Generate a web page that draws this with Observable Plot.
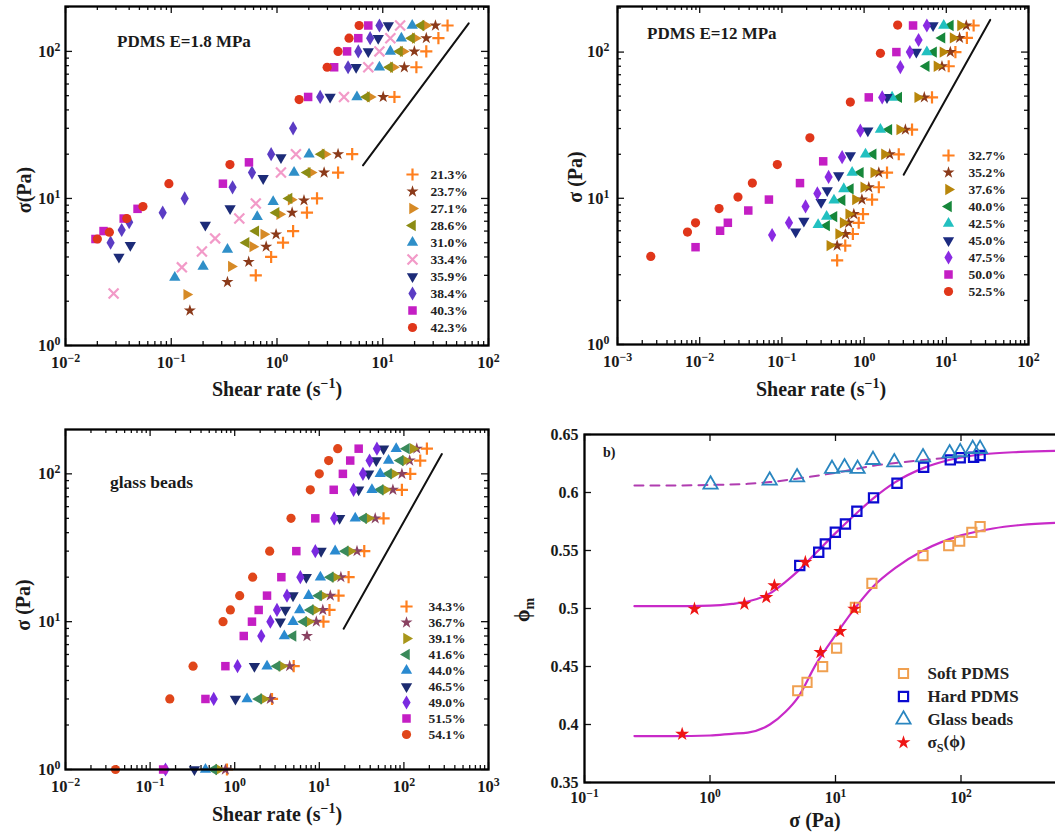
<!DOCTYPE html>
<html><head><meta charset="utf-8">
<script src="https://cdn.jsdelivr.net/npm/d3@7"></script>
<script src="https://cdn.jsdelivr.net/npm/@observablehq/plot@0.6"></script>
<style>
html,body{margin:0;padding:0;overflow:hidden;background:#fff;}
#root{position:relative;width:1055px;height:835px;overflow:hidden;font-family:'Liberation Serif','Times New Roman',serif;font-weight:bold;color:#1a1a1a;}
.lbl{position:absolute;white-space:nowrap;line-height:1;}
</style></head><body><div id="root"></div>
<script>
// ---------------- Panel 1 : PDMS E=1.8 MPa ----------------
const p1Labels = ["21.3%","23.7%","27.1%","28.6%","31.0%","33.4%","35.9%","38.4%","40.3%","42.3%"];
const p1Rate = [
 [41, 33.6, 25.8, 20.8, 12.9, 5.14, 3.78, 2.39, 1.92, 1.42, 1.14, 0.88, 0.63],
 [31.5, 25.8, 19.9, 16, 10.1, 3.78, 2.79, 1.8, 1.39, 0.98, 0.79, 0.54, 0.34, 0.15],
 [25.5, 20.3, 15.6, 12.6, 7.6, 2.85, 2.1, 1.36, 1.06, 0.75, 0.59, 0.37, 0.14],
 [23, 18.7, 14.4, 11.6, 7.0, 2.62, 1.93, 1.3, 0.98, 0.63, 0.51],
 [19, 15, 11.8, 9.3, 5.7, 2.01, 1.45, 0.92, 0.65, 0.34, 0.2, 0.108],
 [14.6, 11.8, 9.3, 7.3, 4.3, 1.51, 1.09, 0.63, 0.44, 0.26, 0.195, 0.126, 0.0285],
 [11.3, 9.06, 7.3, 5.6, 3.18, 1.09, 0.74, 0.36, 0.21, 0.041, 0.032],
 [9.3, 7.6, 5.87, 4.7, 2.56, 1.42, 0.88, 0.58, 0.38, 0.134, 0.083, 0.040, 0.034, 0.0267],
 [7.3, 5.87, 4.6, 3.47, 1.97, 0.543, 0.308, 0.048, 0.0355, 0.0229, 0.0192],
 [5.98, 4.8, 3.78, 2.98, 1.62, 0.359, 0.095, 0.054, 0.038, 0.026, 0.020]
];
const p1Stress = [
 [150, 123, 100, 78, 49, 20, 15, 10, 8.0, 6.0, 5.0, 4.0, 3.0],
 [150, 123, 100, 78, 49, 20, 15, 9.7, 8.0, 5.7, 4.7, 3.7, 2.7, 1.73],
 [150, 123, 100, 78, 49, 20, 15, 9.8, 7.8, 5.7, 4.7, 3.45, 2.22],
 [150, 123, 100, 78, 49, 20, 15, 10, 8.0, 6.0, 5.0],
 [150, 123, 100, 78, 49, 20, 15, 9.5, 7.5, 4.5, 3.45, 2.9],
 [150, 123, 100, 78, 49, 20, 15, 9.25, 7.3, 5.35, 4.36, 3.4, 2.26],
 [150, 123, 100, 78, 49, 19, 13.7, 8.55, 6.6, 4.8, 4.0],
 [150, 123, 100, 78, 49, 30, 20, 15, 11.9, 10, 8.0, 6.9, 6.1, 5.0],
 [150, 123, 100, 78, 49, 17.6, 12.6, 8.5, 7.3, 6.0, 5.3],
 [150, 123, 100, 78, 47, 17, 12.6, 8.8, 7.3, 5.9, 5.3]
];
const p1LineRate = [6.5, 65];
const p1LineStress = [16.8, 155];
const p1XTicks = [0.01, 0.1, 1, 10, 100];
const p1YTicks = [1, 10, 100];

// ---------------- Panel 2 : PDMS E=12 MPa ----------------
const p2Labels = ["32.7%","35.2%","37.6%","40.0%","42.5%","45.0%","47.5%","50.0%","52.5%"];
const p2Rate = [
 [21.5, 17.8, 12.9, 10.7, 6.7, 3.83, 2.64, 1.9, 1.51, 1.25, 0.97, 0.86, 0.73, 0.59, 0.47],
 [17.5, 14.5, 11.2, 8.86, 5.4, 3.18, 2.05, 1.51, 1.14, 0.94, 0.75, 0.65, 0.593, 0.47],
 [14.9, 12.1, 9.1, 7.7, 4.49, 2.71, 1.77, 1.31, 0.99, 0.785, 0.65, 0.556, 0.49, 0.383],
 [11.2, 8.86, 7.0, 5.7, 2.64, 2.0, 1.29, 0.9, 0.68, 0.54, 0.43, 0.35],
 [9.3, 5.8, 2.19, 1.58, 1.04, 0.715, 0.566, 0.43, 0.35, 0.276],
 [6.9, 4.32, 1.9, 1.11, 0.68, 0.49, 0.356, 0.3, 0.185, 0.147],
 [5.8, 4.6, 3.6, 2.76, 1.66, 0.9, 0.54, 0.37, 0.27, 0.194, 0.122, 0.076],
 [3.94, 2.47, 1.14, 0.318, 0.166, 0.0695, 0.039, 0.022, 0.0177, 0.0089],
 [2.56, 1.58, 0.68, 0.219, 0.088, 0.0437, 0.0292, 0.0172, 0.0089, 0.0071, 0.00254]
];
const p2Stress = [
 [152, 125, 100, 80, 49, 29.5, 20, 15, 11.9, 9.8, 7.8, 6.8, 5.7, 4.75, 3.76],
 [152, 125, 100, 80, 49, 29.5, 20, 15, 11.9, 9.8, 7.8, 6.8, 5.7, 4.75],
 [152, 125, 100, 80, 49, 29.5, 20, 15, 11.9, 9.8, 7.8, 6.8, 5.7, 4.75],
 [152, 125, 100, 80, 49, 29.5, 20, 15, 11.6, 9.7, 7.5, 6.5],
 [152, 100, 49, 29.5, 20, 15, 11.6, 9.7, 7.5, 6.6],
 [152, 100, 49, 29, 19.6, 14.3, 11.3, 9.4, 7.0, 5.9],
 [152, 121, 100, 79, 49, 29, 19.1, 14, 10.8, 8.8, 6.8, 5.6],
 [152, 100, 49, 17.9, 12.7, 9.8, 8.25, 6.8, 6.0, 4.63],
 [153, 98, 45.5, 25.9, 17, 12.7, 10.2, 8.5, 6.8, 5.87, 4.0]
];
const p2LineRate = [3.03, 34.2];
const p2LineStress = [14.5, 166];
const p2XTicks = [0.001, 0.01, 0.1, 1, 10, 100];
const p2YTicks = [1, 10, 100];

// ---------------- Panel 3 : glass beads ----------------
const p3Labels = ["34.3%","36.7%","39.1%","41.6%","44.0%","46.5%","49.0%","51.5%","54.1%"];
const p3Rate = [
 [187, 156, 119, 94.7, 57.5, 34, 22.2, 16.9, 13.2, 11.2, 4.98, 2.76, 0.81],
 [142, 117, 94.7, 74.1, 45.8, 27.9, 18, 13.5, 11, 9.22, 7.15, 4.46, 2.64, 0.776],
 [128, 104, 75.5, 60.2, 38.3, 23.2, 15.4, 11.0, 8.97, 7.48, 3.62, 2.2, 0.648],
 [107, 90.5, 65.9, 52.5, 33.4, 20.3, 13.5, 9.82, 7.83, 6.54, 4.89, 3.16, 1.92, 0.565],
 [81.1, 65.9, 52.5, 41.9, 26.6, 15.4, 10.3, 7.48, 5.86, 4.89, 3.86, 2.41, 1.4, 0.451],
 [57.5, 47.1, 38.3, 29.2, 17.4, 10.5, 7.02, 4.89, 3.97, 3.46, 1.71, 1.02, 0.334],
 [48, 39.3, 32.8, 25.4, 15.0, 8.97, 5.97, 4.15, 3.16, 2.64, 2.06, 1.08, 0.565, 0.152],
 [29.2, 23.2, 19, 14.8, 8.97, 5.35, 3.56, 2.41, 1.92, 1.6, 1.28, 0.776, 0.451, 0.1426],
 [16.5, 12.9, 10, 7.83, 4.63, 2.59, 1.63, 1.145, 0.889, 0.728, 0.322, 0.171, 0.039]
];
const p3Stress = [
 [148, 123, 100, 78, 50, 30, 20, 15, 12, 10, 5, 3, 1],
 [148, 123, 100, 78, 50, 30, 20, 15, 12, 10, 8, 5, 3, 1],
 [148, 123, 100, 78, 50, 30, 20, 15, 12, 10, 5, 3, 1],
 [148, 123, 100, 78, 50, 30, 20, 15, 12, 10, 8, 5, 3, 1],
 [148, 123, 100, 78, 50, 30, 20, 15, 12, 10, 8, 5, 3, 1],
 [148, 123, 100, 78, 50, 30, 20, 15, 12, 10, 5, 3, 1],
 [148, 123, 100, 78, 50, 30, 20, 15, 12, 10, 8, 5, 3, 1],
 [148, 123, 100, 78, 50, 30, 20, 15, 12, 10, 8, 5, 3, 1],
 [148, 123, 100, 78, 50, 30, 20, 15, 12, 10, 5, 3, 1]
];
const p3LineRate = [19.4, 281];
const p3LineStress = [8.97, 136];
const p3XTicks = [0.01, 0.1, 1, 10, 100, 1000];
const p3YTicks = [1, 10, 100];

// ---------------- Panel 4 : phi_m vs sigma ----------------
const p4Labels = ["Soft PDMS", "Hard PDMS", "Glass beads", "σ_S(ϕ)"];
const p4SoftX = [5.0, 5.93, 7.9, 10.2, 14.4, 19.5, 49.8, 79.8, 97.6, 122, 142];
const p4SoftY = [0.4291, 0.4363, 0.4498, 0.4659, 0.501, 0.5217, 0.5456, 0.5542, 0.558, 0.5657, 0.5706];
const p4HardX = [5.19, 7.35, 8.3, 9.97, 12, 14.8, 20.1, 30.9, 50.4, 82.2, 98.6, 126, 142];
const p4HardY = [0.537, 0.5485, 0.5557, 0.5657, 0.5729, 0.5839, 0.5954, 0.608, 0.6218, 0.6281, 0.6299, 0.6304, 0.6319];
const p4GlassX = [1.01, 2.99, 4.94, 9.38, 11.8, 15.0, 19.9, 29.4, 49.8, 81.2, 98.6, 124, 142];
const p4GlassY = [0.6069, 0.6103, 0.6132, 0.6204, 0.6218, 0.6204, 0.6281, 0.6261, 0.6304, 0.6339, 0.6348, 0.6376, 0.6376];
const p4StarX = [0.6, 0.752, 1.88, 2.81, 3.26, 5.75, 7.59, 10.9, 14.1];
const p4StarY = [0.3917, 0.4996, 0.5039, 0.5096, 0.5197, 0.5399, 0.4622, 0.4803, 0.4996];
const p4HardFitX = [0.25, 0.5, 1, 1.5, 2, 3, 4, 5, 7, 10, 15, 20, 30, 50, 80, 150, 300, 600];
const p4HardFitY = [0.502, 0.502, 0.5025, 0.504, 0.506, 0.513, 0.523, 0.532, 0.548, 0.565, 0.583, 0.595, 0.609, 0.621, 0.628, 0.633, 0.635, 0.636];
const p4SoftFitX = [0.25, 0.5, 1, 1.5, 2, 3, 4, 5, 7, 10, 14, 20, 30, 50, 100, 180, 300, 600];
const p4SoftFitY = [0.39, 0.39, 0.3905, 0.392, 0.393, 0.4, 0.411, 0.423, 0.452, 0.477, 0.499, 0.519, 0.535, 0.55, 0.563, 0.569, 0.572, 0.574];
const p4GlassFitX = [0.25, 0.5, 1, 2, 3, 5, 10, 20, 50, 100];
const p4GlassFitY = [0.606, 0.606, 0.6065, 0.6075, 0.609, 0.612, 0.617, 0.623, 0.628, 0.631];
const p4XTicks = [0.1, 1, 10, 100];
const p4YTicks = [0.35, 0.4, 0.45, 0.5, 0.55, 0.6, 0.65];

// ---------------- styles ----------------
const SYM9 = ["plus","star","triangle","triangle","triangle","triangle","diamond","square","circle"];
const ROT9 = [0, 0, 90, -90, 0, 180, 0, 0, 0];
const p1Symbols = ["plus","star","triangle","triangle","triangle","times","triangle","diamond","square","circle"];
const p1Rotate = [0, 0, 90, -90, 0, 0, 180, 0, 0, 0];
const p1Colors = ["#ff7f1e","#8b3a1a","#d68a26","#8c8c14","#2f8fc8","#f29ac8","#1c2b78","#5b3cc4","#c41ec4","#e0361a"];
const p2Colors = ["#ff7f1e","#8b3a1a","#b8860b","#16873a","#22c0c0","#1c2b80","#8a2be2","#c41ec4","#e0361a"];
const p3Colors = ["#ff7f1e","#8a4262","#a8961a","#3a8a5a","#2a8ad0","#1c2b70","#7a2ae0","#c41ec4","#e0461a"];

const FONT = "'Liberation Serif','Times New Roman',serif";
const root = document.getElementById("root");
const sizeOf = {plus: 4, star: 3.8, triangle: 4.2, times: 4.6, diamond: 4.3, square: 4.8, circle: 4.6};
const strokeSyms = new Set(["plus", "times"]);

function dotMark(data, chan, st) {
  const open = st.open || strokeSyms.has(st.symbol);
  return Plot.dot(data, {...chan, symbol: st.symbol, r: st.r ?? sizeOf[st.symbol], rotate: st.rotate || 0,
    fill: open ? "none" : st.color, stroke: open ? st.color : "none", strokeWidth: open ? (st.sw ?? 2.2) : 0});
}

function richText(svg) {
  d3.select(svg).selectAll("text").each(function() {
    const t = this.textContent;
    const s = d3.select(this);
    if (t.includes("^")) {
      const [b, e] = t.split("^");
      s.text(null);
      s.append("tspan").text(b);
      s.append("tspan").attr("dy", "-0.5em").attr("font-size", "72%").text(e.replace("-", "\u2212"));
    } else if (t.includes("_")) {
      const i = t.indexOf("_");
      s.text(null);
      s.append("tspan").text(t.slice(0, i));
      s.append("tspan").attr("dy", "0.35em").attr("font-size", "72%").text(t[i + 1]);
      s.append("tspan").attr("dy", "-0.3em").text(t.slice(i + 2));
    }
  });
}

function place(el, left, top) {
  el.style.position = "absolute";
  el.style.left = left + "px";
  el.style.top = top + "px";
  root.appendChild(el);
}

function label(html, x, y, {size = 20, rotate = false, anchor = "middle"} = {}) {
  const d = document.createElement("div");
  d.className = "lbl";
  d.innerHTML = html;
  d.style.fontSize = size + "px";
  d.style.left = x + "px";
  d.style.top = y + "px";
  d.style.transform = anchor === "start" ? "translate(0,-50%)" : "translate(-50%,-50%)" + (rotate ? " rotate(-90deg)" : "");
  root.appendChild(d);
}

function minors(majors, domain) {
  const out = [];
  for (const m of majors) for (let k = 2; k <= 9; k++) { const v = m * k; if (v > domain[0] && v < domain[1]) out.push(v); }
  return out;
}

const logFmt = d => "10^" + Math.round(Math.log10(d));

function panel(cfg) {
  const {left, top, width, height, mt, mr, mb, ml, xType = "log", yType = "log", xDomain, yDomain,
         xMaj, yMaj, xTickMaj = xMaj, xMin = [], yMin = [], xFmt = logFmt, yFmt = logFmt, xPad, yPad, marks, fs = 16.5} = cfg;
  const iw = width - ml - mr, ih = height - mt - mb;
  const T = 7, t = 4, tk = {stroke: "#111", strokeWidth: 1.3};
  const ticks = [
    Plot.ruleX(xTickMaj, {x: d => d, insetTop: ih - T, ...tk}),
    Plot.ruleX(xTickMaj, {x: d => d, insetBottom: ih - T, ...tk}),
    Plot.ruleX(xMin, {x: d => d, insetTop: ih - t, ...tk}),
    Plot.ruleX(xMin, {x: d => d, insetBottom: ih - t, ...tk}),
    Plot.ruleY(yMaj, {y: d => d, insetRight: iw - T, ...tk}),
    Plot.ruleY(yMaj, {y: d => d, insetLeft: iw - T, ...tk}),
    Plot.ruleY(yMin, {y: d => d, insetRight: iw - t, ...tk}),
    Plot.ruleY(yMin, {y: d => d, insetLeft: iw - t, ...tk})
  ];
  const all = [
    ...ticks,
    Plot.axisX({anchor: "bottom", ticks: xMaj, tickSize: 0, tickPadding: xPad, tickFormat: xFmt, label: null, fontSize: fs}),
    Plot.axisY({anchor: "left", ticks: yMaj, tickSize: 0, tickPadding: yPad, tickFormat: yFmt, label: null, fontSize: fs}),
    ...marks,
    Plot.frame({stroke: "#000", strokeWidth: 2.3})
  ];
  const svg = Plot.plot({
    width, height, marginTop: mt, marginRight: mr, marginBottom: mb, marginLeft: ml,
    x: {type: xType, domain: xDomain}, y: {type: yType, domain: yDomain},
    marks: all,
    style: {fontFamily: FONT, fontWeight: "bold", fontSize: fs + "px", background: "transparent", color: "#1a1a1a", overflow: "visible"}
  });
  richText(svg);
  place(svg, left, top);
}

function legend(labels, styles, {x, y0, rowH, dx, fontSize}) {
  const pad = 12;
  const h = rowH * (labels.length - 1) + 2 * pad;
  const marks = labels.map((lab, i) => dotMark([lab], {x: () => 0, y: d => d}, styles[i]));
  marks.push(Plot.text(labels, {x: () => 0, y: d => d, text: d => d, dx, textAnchor: "start", fontSize, fill: "#222"}));
  const svg = Plot.plot({
    width: 140, height: h, marginTop: pad, marginBottom: pad, marginLeft: pad, marginRight: 0,
    x: {domain: [0, 1], axis: null}, y: {type: "point", domain: labels, padding: 0, axis: null},
    marks, style: {fontFamily: FONT, fontWeight: "bold", background: "transparent", overflow: "visible"}
  });
  richText(svg);
  place(svg, x - pad, y0 - pad);
}

function scatterMarks(labels, rates, stresses, symbols, rotates, colors, lineR, lineS) {
  const marks = [Plot.line(lineR.map((r, i) => ({r, s: lineS[i]})), {x: "r", y: "s", stroke: "#111", strokeWidth: 2})];
  labels.forEach((lab, i) => {
    const data = rates[i].map((r, j) => ({r, s: stresses[i][j]}));
    marks.push(dotMark(data, {x: "r", y: "s"}, {symbol: symbols[i], rotate: rotates[i], color: colors[i]}));
  });
  return marks;
}
const styleList = (symbols, rotates, colors) => symbols.map((s, i) => ({symbol: s, rotate: rotates[i], color: colors[i]}));
const SHEAR = "Shear rate (s<sup style='font-size:70%'>−1</sup>)";

// ---- Panel 1
{
  const xD = [0.01, 100], yD = [1, 202];
  panel({left: 0, top: 0, width: 505, height: 410, mt: 6, mr: 17, mb: 65, ml: 65, xDomain: xD, yDomain: yD,
    xMaj: p1XTicks, yMaj: p1YTicks, xMin: minors(p1XTicks, xD), yMin: minors(p1YTicks, yD), xPad: 11, yPad: 5,
    marks: scatterMarks(p1Labels, p1Rate, p1Stress, p1Symbols, p1Rotate, p1Colors, p1LineRate, p1LineStress)});
  legend(p1Labels, styleList(p1Symbols, p1Rotate, p1Colors), {x: 412, y0: 174, rowH: 17, dx: 18, fontSize: 13.5});
  label("PDMS E=1.8 MPa", 117, 41, {size: 17, anchor: "start"});
  label("σ(Pa)", 24, 190, {rotate: true});
  label(SHEAR, 277, 388);
}
// ---- Panel 2
{
  const xD = [0.001, 100], yD = [1, 205];
  panel({left: 520, top: 0, width: 535, height: 410, mt: 6, mr: 27, mb: 66, ml: 97, xDomain: xD, yDomain: yD,
    xMaj: p2XTicks, yMaj: p2YTicks, xMin: minors(p2XTicks, xD), yMin: minors(p2YTicks, yD), xPad: 11, yPad: 8,
    marks: scatterMarks(p2Labels, p2Rate, p2Stress, SYM9, ROT9, p2Colors, p2LineRate, p2LineStress)});
  legend(p2Labels, styleList(SYM9, ROT9, p2Colors), {x: 948, y0: 155, rowH: 17, dx: 20, fontSize: 13.5});
  label("PDMS E=12 MPa", 647, 33, {size: 17, anchor: "start"});
  label("σ (Pa)", 575, 177, {rotate: true});
  label(SHEAR, 821, 388);
}
// ---- Panel 3
{
  const xD = [0.01, 1000], yD = [1, 199.5];
  panel({left: 0, top: 410, width: 505, height: 425, mt: 19, mr: 17, mb: 66, ml: 65, xDomain: xD, yDomain: yD,
    xMaj: p3XTicks, yMaj: p3YTicks, xMin: minors(p3XTicks, xD), yMin: minors(p3YTicks, yD), xPad: 11, yPad: 5,
    marks: scatterMarks(p3Labels, p3Rate, p3Stress, SYM9, ROT9, p3Colors, p3LineRate, p3LineStress)});
  legend(p3Labels, styleList(SYM9, ROT9, p3Colors), {x: 406, y0: 602, rowH: 16.9, dx: 22, fontSize: 13.5});
  label("glass beads", 110, 483, {size: 17.5, anchor: "start"});
  label("σ (Pa)", 23, 605, {rotate: true});
  label(SHEAR, 277, 813);
}
// ---- Panel 4
{
  const pts = (xs, ys) => xs.map((x, i) => ({x, y: ys[i]}));
  const softSt = {symbol: "square", color: "#f0a050", open: true, r: 5.2, sw: 2};
  const hardSt = {symbol: "square", color: "#0a0ad0", open: true, r: 5.2, sw: 2.2};
  const glassSt = {symbol: "triangle", color: "#2a86c0", open: true, r: 5.3, sw: 1.8};
  const starSt = {symbol: "star", color: "#ee1515", r: 4.4};
  const fitC = "#c82ac8";
  const marks = [
    Plot.line(pts(p4GlassFitX, p4GlassFitY), {x: "x", y: "y", stroke: "#b03cb0", strokeWidth: 2, strokeDasharray: "9,7", curve: "monotone-x"}),
    Plot.line(pts(p4HardFitX, p4HardFitY), {x: "x", y: "y", stroke: fitC, strokeWidth: 2.2, curve: "monotone-x"}),
    Plot.line(pts(p4SoftFitX, p4SoftFitY), {x: "x", y: "y", stroke: fitC, strokeWidth: 2.2, curve: "monotone-x"}),
    dotMark(pts(p4SoftX, p4SoftY), {x: "x", y: "y"}, softSt),
    dotMark(pts(p4HardX, p4HardY), {x: "x", y: "y"}, hardSt),
    dotMark(pts(p4GlassX, p4GlassY), {x: "x", y: "y"}, glassSt),
    dotMark(pts(p4StarX, p4StarY), {x: "x", y: "y"}, starSt)
  ];
  panel({left: 510, top: 410, width: 586, height: 425, mt: 24, mr: 10, mb: 53, ml: 74, yType: "linear",
    xDomain: [0.1, 1000], yDomain: [0.35, 0.65], xMaj: p4XTicks, xTickMaj: [...p4XTicks, 1000], yMaj: p4YTicks,
    yFmt: d => String(+d.toFixed(2)), xPad: 9, yPad: 6, fs: 16, marks});
  legend(p4Labels, [softSt, hardSt, glassSt, starSt], {x: 903, y0: 673, rowH: 23, dx: 24, fontSize: 17});
  label("b)", 603, 453, {size: 14, anchor: "start"});
  label("ϕ<sub style='font-size:70%'>m</sub>", 524, 610, {rotate: true});
  label("σ (Pa)", 815, 820);
}
</script></body></html>
